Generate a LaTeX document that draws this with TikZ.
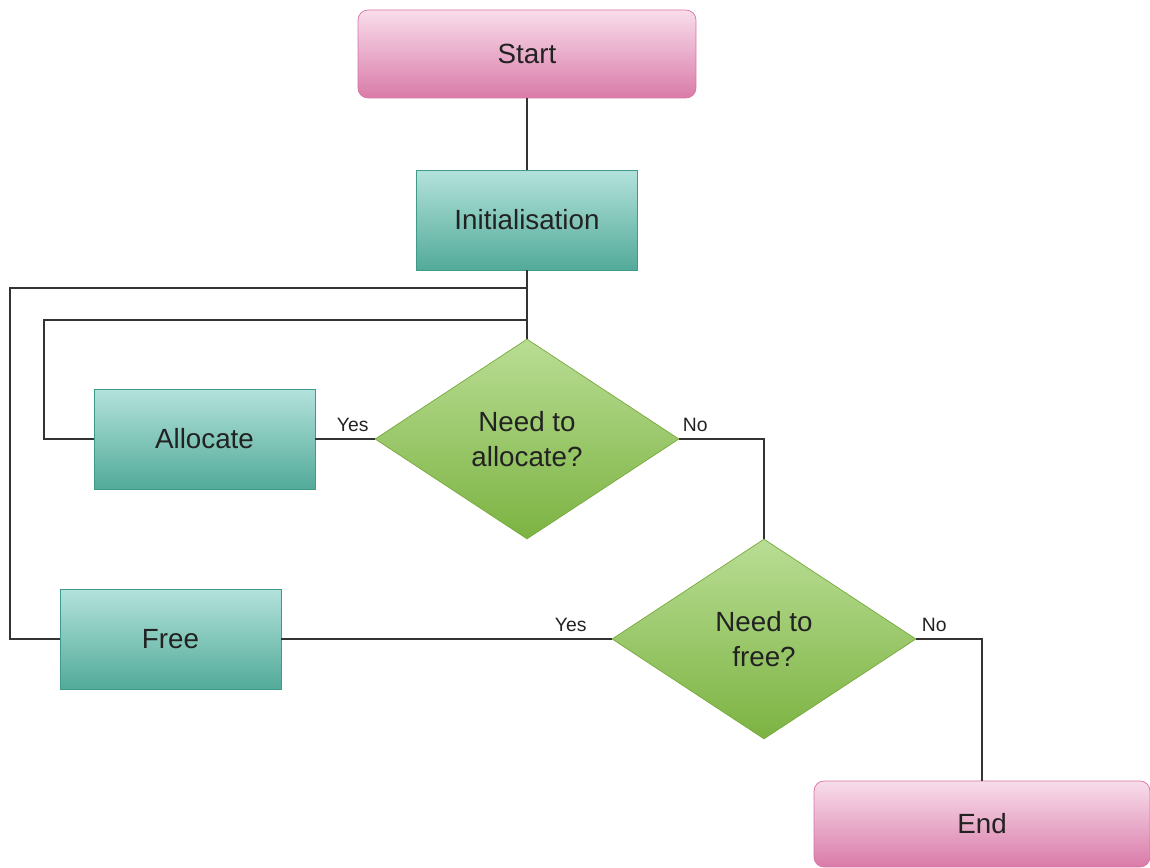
\documentclass[tikz,border=0pt]{standalone}
\usepackage{fontspec}
\setmainfont{Liberation Sans}
\usetikzlibrary{shapes.geometric,positioning}
\definecolor{termtop}{HTML}{F8DDEB}
\definecolor{termbot}{HTML}{D97BA8}
\definecolor{termline}{HTML}{D872A2}
\definecolor{proctop}{HTML}{B3E2DC}
\definecolor{procbot}{HTML}{52AA98}
\definecolor{procline}{HTML}{3F9A89}
\definecolor{dectop}{HTML}{B9DD94}
\definecolor{decbot}{HTML}{7CB342}
\definecolor{decline}{HTML}{78A93C}
\definecolor{wire}{HTML}{333333}
\definecolor{txt}{HTML}{222222}

\begin{document}
\begin{tikzpicture}[x=0.02cm,y=-0.02cm, font=\fontsize{15.8}{19.8}\selectfont,
 term/.style={draw=termline,rounded corners=0.2cm,top color=termtop,bottom color=termbot,minimum width=6.76cm,minimum height=1.76cm,text=txt},
 proc/.style={draw=procline,top color=proctop,bottom color=procbot,minimum width=4.42cm,minimum height=2cm,text=txt},
 dec/.style={diamond,draw=decline,top color=dectop,bottom color=decbot,minimum width=6.08cm,minimum height=4cm,inner sep=0pt,align=center,text=txt,text depth=0pt},
 line/.style={line width=1pt,draw=wire},
 lbl/.style={font=\fontsize{11}{12}\selectfont,text=txt,inner sep=2pt,yshift=1.5pt}]
\useasboundingbox (0,0) rectangle (1150,868);
\node[term] (start) at (527,54) {Start};
\node[proc] (init) at (527,220) {Initialisation};
\node[dec] (dec1) at (527,439) {Need to\\allocate?};
\node[proc] (alloc) at (204.5,439) {Allocate};
\node[dec] (dec2) at (764,639) {Need to\\free?};
\node[proc] (free) at (170.5,639) {Free};
\node[term,minimum width=6.72cm,minimum height=1.72cm] (end) at (982,824) {End};
\coordinate (j1) at (init.south |- 0,288);
\coordinate (j2) at (init.south |- 0,320);
\draw[line] (start)--(init);
\draw[line] (init)--(dec1);
\draw[line] (dec1.west)-- node[lbl,above,pos=0.37]{Yes} (alloc.east);
\draw[line] (dec1.east)-| node[lbl,above,pos=0.094]{No} (dec2.north);
\draw[line] (dec2.west)-- node[lbl,above,pos=0.124]{Yes} (free.east);
\draw[line] (dec2.east)-| node[lbl,above,pos=0.136]{No} (end.north);
\draw[line] (alloc.west)-- ++(-50,0) |- (j2);
\draw[line] (free.west)-- ++(-50,0) |- (j1);
\end{tikzpicture}
\end{document}
